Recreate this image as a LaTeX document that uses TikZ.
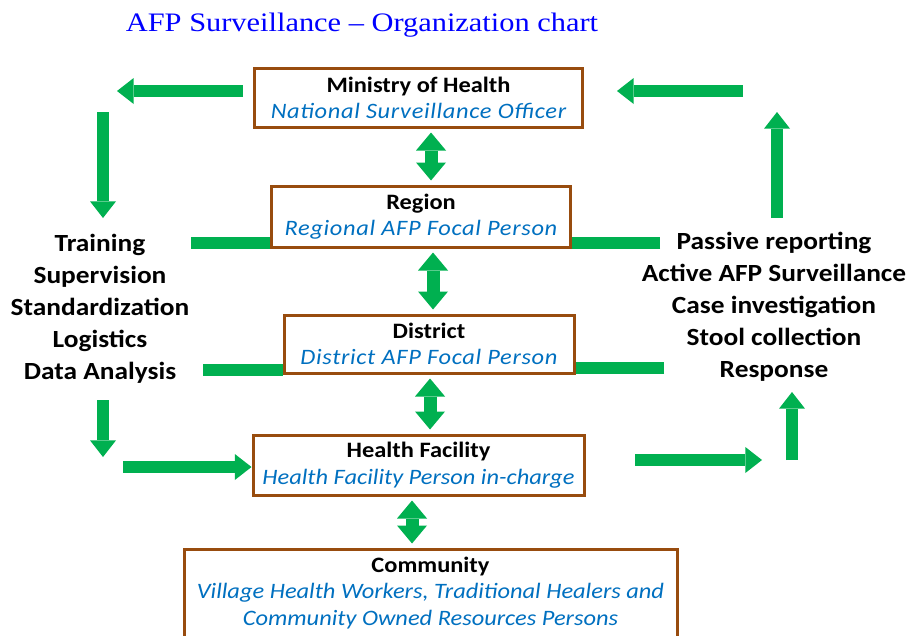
\documentclass[tikz,border=0pt]{standalone}
\usepackage{fontspec}
\setmainfont{Carlito}[FakeStretch=1.11]
\newfontfamily\rolefont{Carlito}[FakeStretch=1.11, LetterSpace=3]
\newfontfamily\titlefont{Liberation Serif}[FakeStretch=1.14]
\usetikzlibrary{arrows.meta,positioning}
\definecolor{cBox}  {RGB}{152,76,14}
\definecolor{cFlow} {RGB}{0,176,80}
\definecolor{cRole} {RGB}{0,112,192}
\definecolor{cTitle}{RGB}{0,0,255}

% level name on top, responsible person below in blue italics
\newcommand{\role}[1]{{\color{cRole}\rolefont\itshape #1}}
\newcommand{\staff}[1]{{\color{cRole}\itshape #1}}
\newcommand{\level}[2]{\textbf{#1}\\\role{#2}}

\begin{document}
\begin{tikzpicture}[
    x=0.75pt, y=-0.75pt,
    unit/.style={rectangle, draw=cBox, fill=white, line width=2.25pt,
                 align=center, inner sep=0pt,
                 font=\fontsize{16.5}{20}\selectfont},
    tasks/.style={align=center, font=\fontsize{18.5}{24}\selectfont\bfseries},
    % block arrows: thick green shaft with a wide triangular head
    flow/.style={draw=cFlow, line width=9pt,
                 -{Triangle[width=19.5pt,length=12.5pt,line width=0pt]}},
    link/.style={draw=cFlow, line width=9.75pt, shorten <=3pt, shorten >=3pt,
                 {Triangle[width=22.5pt,length=13.5pt,line width=0pt]}-{Triangle[width=22.5pt,length=13.5pt,line width=0pt]}},
    bar/.style={draw=cFlow, line width=9.5pt},
]
\useasboundingbox (0,0) rectangle (909,635);

\node[font=\titlefont\fontsize{20}{24}\selectfont, text=cTitle] (title) at (362,25)
    {AFP Surveillance – Organization chart};

% --- Levels of the surveillance system
\node[unit, minimum width=328*0.75pt, minimum height=58*0.75pt] (moh) at (418.5,98)
    {\level{Ministry of Health}{National Surveillance Officer}};
\node[unit, minimum width=299*0.75pt, minimum height=61*0.75pt] (region) at (421,216.5)
    {\level{Region}{Regional AFP Focal Person}};
\node[unit, minimum width=290*0.75pt, minimum height=58*0.75pt] (district) at (429,344)
    {\level{District}{District AFP Focal Person}};
\node[unit, minimum width=331*0.75pt, minimum height=60*0.75pt] (hf) at (418.5,465)
    {\textbf{Health Facility}\\\staff{Health Facility Person in-charge}};
\node[unit, minimum width=493*0.75pt, minimum height=88*0.75pt] (comm) at (430.5,593)
    {\textbf{Community}\\\staff{Village Health Workers, Traditional Healers and}\\
     \staff{Community Owned Resources Persons}};

% --- Support going down, reporting going up
\node[tasks] (support) at (100,309)
    {Training\\Supervision\\Standardization\\Logistics\\Data Analysis};
\node[tasks] (report) at (774,307)
    {Passive reporting\\Active AFP Surveillance\\Case investigation\\Stool collection\\Response};

% --- Free ends of the block arrows
\coordinate (ax1) at (431,0);
\coordinate (ax2) at (433,0);
\coordinate (ax3) at (430,0);
\coordinate (ax4) at (412,0);
\coordinate (mohW)  at (243,91);
\coordinate (nw)    at (117,91);
\coordinate (supT)  at (103,112);
\coordinate (supT2) at (103,218);
\coordinate (regW)  at (191,243);
\coordinate (disW)  at (203,370);
\coordinate (supB)  at (103,400);
\coordinate (supB2) at (103,457);
\coordinate (hfW)   at (123,467);
\coordinate (hfE)   at (635,460);
\coordinate (se)    at (762,460);
\coordinate (repB)  at (792,460);
\coordinate (repB2) at (792,392);
\coordinate (regE)  at (660,243);
\coordinate (disE)  at (664,368);
\coordinate (repT)  at (777,218);
\coordinate (repT2) at (777,112);
\coordinate (mohE)  at (743,91);
\coordinate (ne)    at (617,91);

% --- Two-way links between levels
\draw[link] (moh.south -| ax1) -- (region.north -| ax1);
\draw[link] (region.south -| ax2) -- (district.north -| ax2);
\draw[link] (district.south -| ax3) -- (hf.north -| ax3);
\draw[link] (hf.south -| ax4) -- (comm.north -| ax4);

% --- Left loop
\draw[flow] (mohW) -- (nw);
\draw[flow] (supT) -- (supT2);
\draw[bar] (regW) -- (regW -| region.west);
\draw[bar] (disW) -- (disW -| district.west);
\draw[flow] (supB) -- (supB2);
\draw[flow] (hfW) -- (hfW -| hf.west);

% --- Right loop
\draw[flow] (hfE) -- (se);
\draw[flow] (repB) -- (repB2);
\draw[bar] (regE) -- (regE -| region.east);
\draw[bar] (disE) -- (disE -| district.east);
\draw[flow] (repT) -- (repT2);
\draw[flow] (mohE) -- (ne);
\end{tikzpicture}
\end{document}
